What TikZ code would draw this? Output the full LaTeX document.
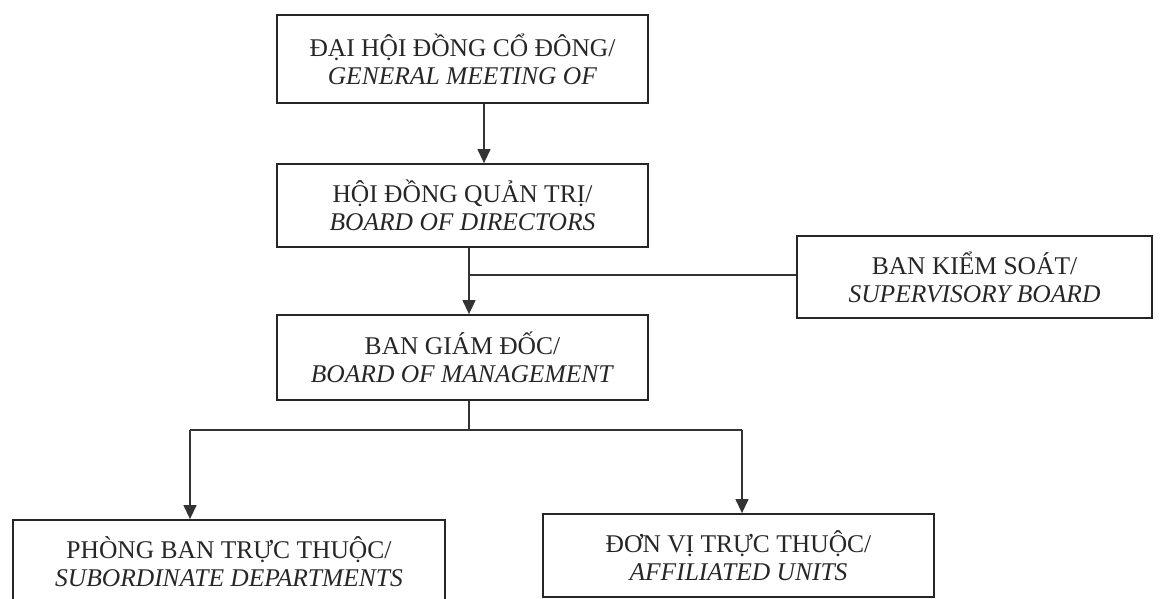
\documentclass[tikz,border=0pt]{standalone}
\usepackage{fontspec}
\setmainfont{Liberation Serif}
\usetikzlibrary{arrows.meta}
\begin{document}
\begin{tikzpicture}[x=1pt,y=-1pt,
  orgbox/.style={draw=black!85,line width=1.8pt,rectangle,align=center,
    font=\fontsize{25.5}{28}\selectfont,text=black!85,inner sep=0pt},
  link/.style={draw=black!80,line width=1.3pt},
  arr/.style={link,-{Triangle[width=13pt,length=14pt]}}]
\useasboundingbox (0,0) rectangle (1162,599);
\node[orgbox,minimum width=371pt,minimum height=88pt] (gms) at (462.5,59)
  {ĐẠI HỘI ĐỒNG CỔ ĐÔNG/\\\textit{GENERAL MEETING OF}};
\node[orgbox,minimum width=371pt,minimum height=83pt] (bod) at (462.5,205.5)
  {HỘI ĐỒNG QUẢN TRỊ/\\\textit{BOARD OF DIRECTORS}};
\node[orgbox,minimum width=371pt,minimum height=85pt] (bom) at (462.5,357.5)
  {BAN GIÁM ĐỐC/\\\textit{BOARD OF MANAGEMENT}};
\node[orgbox,minimum width=355pt,minimum height=82pt] (sup) at (974.5,277)
  {BAN KIỂM SOÁT/\\\textit{SUPERVISORY BOARD}};
\node[orgbox,minimum width=432pt,minimum height=84pt] (dep) at (229,562)
  {PHÒNG BAN TRỰC THUỘC/\\\textit{SUBORDINATE DEPARTMENTS}};
\node[orgbox,minimum width=391pt,minimum height=83pt] (aff) at (738.5,555.5)
  {ĐƠN VỊ TRỰC THUỘC/\\\textit{AFFILIATED UNITS}};
\coordinate (a1) at (484,0);
\coordinate (j1) at (469,275);
\coordinate (j2) at (469,430);
\coordinate (l2) at (190,430);
\coordinate (r2) at (742,430);
\draw[arr] (gms.south -| a1) -- (bod.north -| a1);
\draw[link] (bod.south -| j1) -- (j1);
\draw[arr] (j1) -- (bom.north -| j1);
\draw[link] (j1) -- (j1 -| sup.west);
\draw[link] (bom.south -| j2) -- (j2);
\draw[link] (l2) -- (r2);
\draw[arr] (l2) -- (dep.north -| l2);
\draw[arr] (r2) -- (aff.north -| r2);
\end{tikzpicture}
\end{document}
